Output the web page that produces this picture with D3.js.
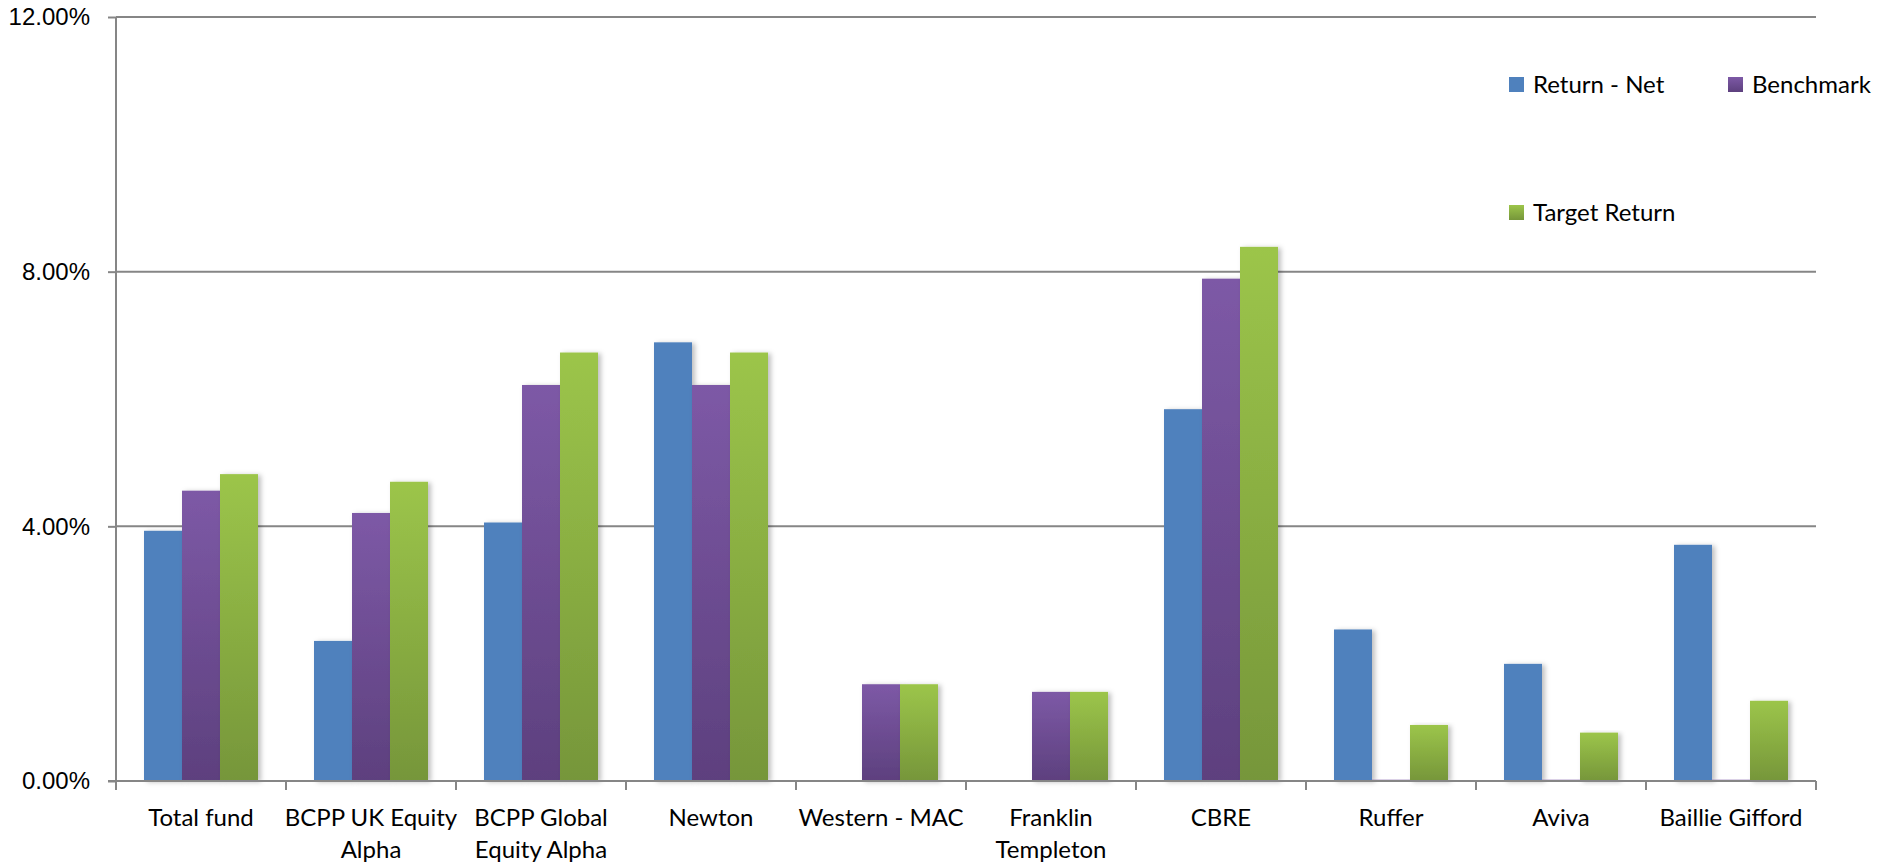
<!DOCTYPE html>
<html>
<head>
<meta charset="utf-8">
<script src="https://cdn.jsdelivr.net/npm/d3@7"></script>
<style>
  html, body { margin: 0; padding: 0; background: #fff; }
  svg { display: block; font-family: Lato, "Open Sans", sans-serif; }
  .axis path, .axis line { stroke: #868686; stroke-width: 2; }
  .axis text { fill: #000; font-size: 24px; }
  .grid line { stroke: #868686; stroke-width: 2; }
</style>
</head>
<body>
<svg id="chart" width="1894" height="867"></svg>
<script>
// data (percent)
const categories = ['Total fund', 'BCPP UK Equity Alpha', 'BCPP Global Equity Alpha', 'Newton',
  'Western - MAC', 'Franklin Templeton', 'CBRE', 'Ruffer', 'Aviva', 'Baillie Gifford'];
const labelLines = [['Total fund'], ['BCPP UK Equity', 'Alpha'], ['BCPP Global', 'Equity Alpha'], ['Newton'],
  ['Western - MAC'], ['Franklin', 'Templeton'], ['CBRE'], ['Ruffer'], ['Aviva'], ['Baillie Gifford']];
const seriesNames = ['Return - Net', 'Benchmark', 'Target Return'];
const returnNet = [3.93, 2.20, 4.06, 6.89, 0, 0, 5.84, 2.38, 1.84, 3.71];
const benchmark = [4.56, 4.21, 6.22, 6.22, 1.52, 1.40, 7.89, 0.02, 0.02, 0.02];
const targetReturn = [4.82, 4.70, 6.73, 6.73, 1.52, 1.40, 8.39, 0.88, 0.76, 1.26];
const yTicks = [0, 4, 8, 12];

const seriesValues = [returnNet, benchmark, targetReturn];
const rows = categories.map((c, i) => ({ cat: c, values: seriesNames.map((s, j) => ({ s, v: seriesValues[j][i] })) }));

const svg = d3.select('#chart');
const plotLeft = 116, plotRight = 1816, plotTop = 17, plotBottom = 781;

const x0 = d3.scaleBand().domain(categories).range([plotLeft, plotRight]).paddingInner(0).paddingOuter(0);
const x1 = d3.scaleBand().domain(seriesNames).range([0, x0.bandwidth()]).paddingInner(0).paddingOuter(0.737);
const y = d3.scaleLinear().domain([0, 12]).range([plotBottom, plotTop]);

// gradients + shadow
const defs = svg.append('defs');
function vgrad(id, c1, c2){
  const g = defs.append('linearGradient').attr('id', id).attr('x1', 0).attr('y1', 0).attr('x2', 0).attr('y2', 1);
  g.append('stop').attr('offset', '0%').attr('stop-color', c1);
  g.append('stop').attr('offset', '100%').attr('stop-color', c2);
}
vgrad('gPurple', '#7D59A6', '#5D407E');
vgrad('gGreen', '#9CC54A', '#76963A');
defs.append('filter').attr('id', 'shadow').attr('x', '-20%').attr('y', '-5%').attr('width', '150%').attr('height', '115%')
  .append('feDropShadow').attr('dx', 3).attr('dy', 1).attr('stdDeviation', 2.5)
  .attr('flood-color', '#000').attr('flood-opacity', 0.25);

const fills = { 'Return - Net': '#4F81BD', 'Benchmark': 'url(#gPurple)', 'Target Return': 'url(#gGreen)' };

// gridlines
svg.append('g').attr('class', 'grid')
  .selectAll('line').data(yTicks.filter(d => d > 0)).join('line')
  .attr('x1', plotLeft).attr('x2', plotRight).attr('y1', d => y(d)).attr('y2', d => y(d));

// bars
const grp = svg.append('g').selectAll('g').data(rows).join('g')
  .attr('transform', d => `translate(${x0(d.cat)},0)`);
grp.selectAll('rect').data(d => d.values.filter(e => e.v > 0)).join('rect')
  .attr('x', d => x1(d.s)).attr('width', x1.bandwidth())
  .attr('y', d => y(d.v)).attr('height', d => y(0) - y(d.v))
  .attr('fill', d => fills[d.s])
  .attr('filter', d => (d.v > 0.1 ? 'url(#shadow)' : null));

// y axis
svg.append('g').attr('class', 'axis').attr('transform', `translate(${plotLeft},0)`)
  .call(d3.axisLeft(y).tickValues(yTicks).tickFormat(d => d.toFixed(2) + '%').tickSize(8).tickPadding(18))
  .call(g => g.select('.domain').attr('d', `M0,${plotTop}V${plotBottom + 9}`));

// x axis
const xAxis = svg.append('g').attr('class', 'axis').attr('transform', `translate(0,${plotBottom})`);
xAxis.append('line').attr('x1', plotLeft - 8).attr('x2', plotRight).attr('y1', 0).attr('y2', 0);
xAxis.selectAll('line.tick').data(d3.range(categories.length + 1)).join('line').attr('class', 'tick')
  .attr('x1', i => plotLeft + i * x0.step()).attr('x2', i => plotLeft + i * x0.step()).attr('y1', 0).attr('y2', 9);
xAxis.selectAll('text').data(categories).join('text')
  .attr('x', d => x0(d) + x0.bandwidth() / 2).attr('y', 45)
  .attr('text-anchor', 'middle')
  .each(function(d, i){
    d3.select(this).selectAll('tspan').data(labelLines[i]).join('tspan')
      .attr('x', x0(d) + x0.bandwidth() / 2).attr('dy', (t, k) => k === 0 ? 0 : 32).text(t => t);
  });

// legend
const legendPos = [[1509, 77], [1728, 77], [1509, 205]];
const lg = svg.append('g').selectAll('g').data(seriesNames).join('g')
  .attr('transform', (d, i) => `translate(${legendPos[i][0]},${legendPos[i][1]})`);
lg.append('rect').attr('width', 15).attr('height', 15).attr('fill', d => fills[d]);
lg.append('text').attr('x', 24).attr('y', 16).attr('font-size', 24).attr('fill', '#000').text(d => d);
</script>
</body>
</html>
